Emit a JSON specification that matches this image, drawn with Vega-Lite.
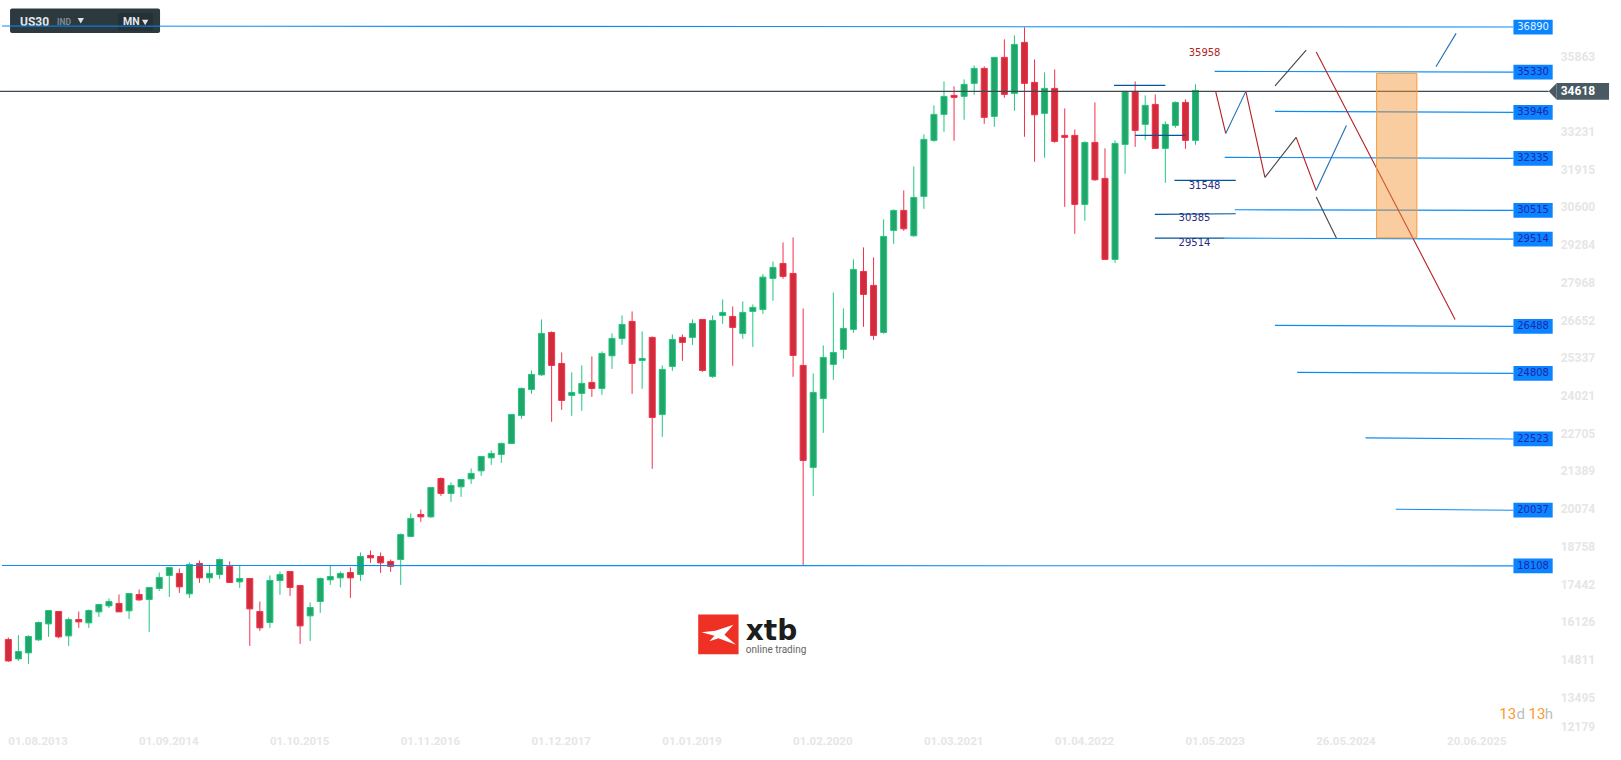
{
  "$schema": "https://vega.github.io/schema/vega-lite/v6.json",
  "width": 1626,
  "height": 765,
  "padding": {"left": 0, "top": 0, "right": 0, "bottom": 0},
  "autosize": {"type": "none"},
  "background": "#ffffff",
  "datasets": {
    "candles": [
      {"bar":0,"open":15527,"high":15597,"low":14745,"close":14780},
      {"bar":1,"open":14850,"high":15677,"low":14780,"close":15108},
      {"bar":2,"open":15059,"high":15677,"low":14676,"close":15631},
      {"bar":3,"open":15513,"high":16155,"low":15478,"close":16120},
      {"bar":4,"open":16071,"high":16539,"low":15618,"close":16539},
      {"bar":5,"open":16504,"high":16504,"low":15572,"close":15618},
      {"bar":6,"open":15652,"high":16294,"low":15303,"close":16225},
      {"bar":7,"open":16225,"high":16504,"low":15932,"close":16141},
      {"bar":8,"open":16106,"high":16573,"low":15932,"close":16539},
      {"bar":9,"open":16490,"high":16748,"low":16315,"close":16748},
      {"bar":10,"open":16699,"high":16957,"low":16629,"close":16853},
      {"bar":11,"open":16783,"high":17097,"low":16490,"close":16490},
      {"bar":12,"open":16525,"high":17132,"low":16246,"close":17132},
      {"bar":13,"open":17097,"high":17271,"low":16874,"close":16908},
      {"bar":14,"open":16922,"high":17341,"low":15792,"close":17341},
      {"bar":15,"open":17306,"high":17864,"low":17222,"close":17690},
      {"bar":16,"open":17760,"high":18039,"low":17013,"close":18039},
      {"bar":17,"open":17830,"high":18004,"low":17153,"close":17362},
      {"bar":18,"open":17118,"high":18213,"low":16978,"close":18144},
      {"bar":19,"open":18178,"high":18283,"low":17502,"close":17676},
      {"bar":20,"open":17676,"high":18095,"low":17502,"close":17830},
      {"bar":21,"open":17795,"high":18353,"low":17641,"close":18318},
      {"bar":22,"open":18074,"high":18248,"low":17516,"close":17516},
      {"bar":23,"open":17536,"high":18109,"low":17327,"close":17655},
      {"bar":24,"open":17655,"high":17655,"low":15303,"close":16594},
      {"bar":25,"open":16504,"high":16853,"low":15827,"close":15932},
      {"bar":26,"open":16120,"high":17760,"low":15932,"close":17585},
      {"bar":27,"open":17585,"high":17899,"low":17083,"close":17795},
      {"bar":28,"open":17899,"high":17899,"low":17048,"close":17341},
      {"bar":29,"open":17411,"high":17411,"low":15373,"close":16001},
      {"bar":30,"open":16350,"high":16818,"low":15478,"close":16643},
      {"bar":31,"open":16853,"high":17690,"low":16455,"close":17655},
      {"bar":32,"open":17606,"high":18109,"low":17432,"close":17725},
      {"bar":33,"open":17676,"high":17899,"low":17341,"close":17830},
      {"bar":34,"open":17864,"high":18039,"low":16978,"close":17676},
      {"bar":35,"open":17795,"high":18562,"low":17571,"close":18423},
      {"bar":36,"open":18458,"high":18632,"low":18199,"close":18374},
      {"bar":37,"open":18423,"high":18562,"low":17850,"close":18199},
      {"bar":38,"open":18248,"high":18318,"low":17885,"close":18074},
      {"bar":39,"open":18318,"high":19225,"low":17432,"close":19190},
      {"bar":40,"open":19121,"high":19923,"low":19121,"close":19749},
      {"bar":41,"open":19888,"high":20062,"low":19630,"close":19804},
      {"bar":42,"open":19804,"high":20830,"low":19769,"close":20830},
      {"bar":43,"open":21144,"high":21179,"low":20537,"close":20621},
      {"bar":44,"open":20621,"high":21005,"low":20328,"close":20900},
      {"bar":45,"open":20851,"high":21109,"low":20502,"close":21109},
      {"bar":46,"open":21130,"high":21493,"low":20956,"close":21319},
      {"bar":47,"open":21409,"high":21912,"low":21235,"close":21912},
      {"bar":48,"open":21863,"high":22121,"low":21618,"close":22016},
      {"bar":49,"open":21982,"high":22400,"low":21688,"close":22365},
      {"bar":50,"open":22365,"high":23377,"low":22365,"close":23377},
      {"bar":51,"open":23342,"high":24319,"low":23224,"close":24284},
      {"bar":52,"open":24249,"high":24912,"low":24096,"close":24773},
      {"bar":53,"open":24759,"high":26692,"low":24724,"close":26203},
      {"bar":54,"open":26238,"high":26273,"low":23119,"close":25087},
      {"bar":55,"open":25156,"high":25540,"low":23538,"close":23866},
      {"bar":56,"open":24040,"high":24843,"low":23328,"close":24145},
      {"bar":57,"open":24110,"high":25087,"low":23503,"close":24459},
      {"bar":58,"open":24494,"high":25401,"low":23991,"close":24284},
      {"bar":59,"open":24284,"high":25575,"low":24061,"close":25505},
      {"bar":60,"open":25422,"high":26203,"low":24968,"close":26029},
      {"bar":61,"open":26029,"high":26831,"low":25805,"close":26517},
      {"bar":62,"open":26622,"high":26971,"low":24096,"close":25157},
      {"bar":63,"open":25261,"high":26273,"low":24270,"close":25331},
      {"bar":64,"open":26064,"high":26098,"low":21479,"close":23272},
      {"bar":65,"open":23377,"high":25087,"low":22596,"close":24947},
      {"bar":66,"open":25052,"high":26168,"low":24898,"close":25993},
      {"bar":67,"open":26064,"high":26168,"low":25247,"close":25889},
      {"bar":68,"open":26064,"high":26692,"low":25805,"close":26552},
      {"bar":69,"open":26692,"high":26692,"low":24863,"close":24912},
      {"bar":70,"open":24703,"high":26831,"low":24654,"close":26657},
      {"bar":71,"open":26831,"high":27389,"low":26538,"close":26936},
      {"bar":72,"open":26796,"high":27145,"low":25073,"close":26413},
      {"bar":73,"open":26203,"high":27320,"low":26015,"close":26936},
      {"bar":74,"open":26971,"high":27215,"low":25736,"close":27110},
      {"bar":75,"open":27040,"high":28272,"low":26887,"close":28167},
      {"bar":76,"open":28122,"high":28715,"low":27340,"close":28506},
      {"bar":77,"open":28645,"high":29378,"low":28108,"close":28192},
      {"bar":78,"open":28296,"high":29553,"low":24689,"close":25435},
      {"bar":79,"open":25087,"high":27075,"low":18095,"close":21772},
      {"bar":80,"open":21528,"high":24808,"low":20537,"close":24145},
      {"bar":81,"open":23935,"high":25784,"low":22735,"close":25366},
      {"bar":82,"open":25122,"high":27634,"low":24584,"close":25540},
      {"bar":83,"open":25645,"high":27075,"low":25317,"close":26377},
      {"bar":84,"open":26343,"high":28785,"low":26224,"close":28436},
      {"bar":85,"open":28366,"high":29204,"low":26434,"close":27564},
      {"bar":86,"open":27878,"high":28855,"low":25980,"close":26133},
      {"bar":87,"open":26238,"high":30181,"low":26189,"close":29587},
      {"bar":88,"open":29797,"high":30529,"low":29329,"close":30495},
      {"bar":89,"open":30495,"high":31192,"low":29783,"close":29853},
      {"bar":90,"open":29609,"high":32030,"low":29574,"close":30948},
      {"bar":91,"open":30983,"high":33146,"low":30550,"close":32972},
      {"bar":92,"open":32937,"high":34158,"low":32888,"close":33844},
      {"bar":93,"open":33844,"high":34995,"low":33237,"close":34472},
      {"bar":94,"open":34507,"high":34821,"low":32923,"close":34437},
      {"bar":95,"open":34472,"high":35065,"low":33656,"close":34891},
      {"bar":96,"open":34926,"high":35554,"low":34528,"close":35449},
      {"bar":97,"open":35449,"high":35519,"low":33516,"close":33739},
      {"bar":98,"open":33774,"high":35833,"low":33411,"close":35833},
      {"bar":99,"open":35833,"high":36461,"low":34423,"close":34542},
      {"bar":100,"open":34577,"high":36600,"low":33970,"close":36286},
      {"bar":101,"open":36356,"high":36880,"low":33063,"close":34926},
      {"bar":102,"open":34961,"high":35763,"low":32190,"close":33830},
      {"bar":103,"open":33879,"high":35309,"low":32330,"close":34751},
      {"bar":104,"open":34751,"high":35414,"low":32853,"close":32902},
      {"bar":105,"open":33111,"high":34053,"low":30620,"close":33042},
      {"bar":106,"open":33111,"high":33321,"low":29678,"close":30704},
      {"bar":107,"open":30704,"high":32902,"low":30132,"close":32867},
      {"bar":108,"open":32867,"high":34263,"low":31527,"close":31562},
      {"bar":109,"open":31611,"high":32658,"low":28785,"close":28785},
      {"bar":110,"open":28785,"high":32937,"low":28666,"close":32832},
      {"bar":111,"open":32797,"high":34647,"low":31772,"close":34647},
      {"bar":112,"open":34647,"high":34995,"low":32714,"close":33286},
      {"bar":113,"open":33495,"high":34507,"low":32958,"close":34158},
      {"bar":114,"open":34193,"high":34542,"low":32658,"close":32658},
      {"bar":115,"open":32658,"high":33600,"low":31458,"close":33495},
      {"bar":116,"open":33460,"high":34298,"low":33376,"close":34263},
      {"bar":117,"open":34263,"high":34367,"low":32644,"close":32937},
      {"bar":118,"open":32937,"high":34891,"low":32783,"close":34681}
    ],
    "segments": [
      {"kind":"level","t1":-0.63,"p1":36925,"t2":149.6,"p2":36890},
      {"kind":"level","t1":119.9,"p1":35344,"t2":149.6,"p2":35320},
      {"kind":"level","t1":125.9,"p1":33949,"t2":149.6,"p2":33914},
      {"kind":"level","t1":120.9,"p1":32344,"t2":149.6,"p2":32309},
      {"kind":"level","t1":121.9,"p1":30515,"t2":149.6,"p2":30495},
      {"kind":"level","t1":120.9,"p1":29528,"t2":149.6,"p2":29493},
      {"kind":"level","t1":125.9,"p1":26485,"t2":149.6,"p2":26450},
      {"kind":"level","t1":128.1,"p1":24843,"t2":149.6,"p2":24808},
      {"kind":"level","t1":134.9,"p1":22558,"t2":149.6,"p2":22523},
      {"kind":"level","t1":137.9,"p1":20072,"t2":149.6,"p2":20037},
      {"kind":"level","t1":-0.63,"p1":18109,"t2":149.6,"p2":18095},
      {"kind":"support","t1":113.96,"p1":29528,"t2":120.9,"p2":29528},
      {"kind":"support","t1":113.96,"p1":30355,"t2":122,"p2":30376},
      {"kind":"support","t1":115.9,"p1":31541,"t2":122,"p2":31541},
      {"kind":"support","t1":109.9,"p1":34856,"t2":115,"p2":34856},
      {"kind":"support","t1":112,"p1":33111,"t2":117,"p2":33111},
      {"kind":"price","t1":-0.825,"p1":34647,"t2":153.1,"p2":34647},
      {"kind":"down","t1":120,"p1":34647,"t2":121,"p2":33181},
      {"kind":"down","t1":123,"p1":34647,"t2":124.9,"p2":31646},
      {"kind":"down","t1":128,"p1":33042,"t2":130,"p2":31178},
      {"kind":"down","t1":130,"p1":36018,"t2":143.8,"p2":26692},
      {"kind":"up","t1":121,"p1":33181,"t2":123,"p2":34647},
      {"kind":"up","t1":130,"p1":31203,"t2":133,"p2":33460},
      {"kind":"up","t1":141.9,"p1":35505,"t2":143.9,"p2":36670},
      {"kind":"alt","t1":124.9,"p1":31646,"t2":128,"p2":33042},
      {"kind":"alt","t1":130,"p1":30959,"t2":132,"p2":29528},
      {"kind":"alt","t1":125.9,"p1":34842,"t2":129,"p2":36087}
    ],
    "levels": [
      {"t1":149.6,"t2":153.5,"t":151.55,"price":36890,"text":"36890"},
      {"t1":149.6,"t2":153.5,"t":151.55,"price":35320,"text":"35330"},
      {"t1":149.6,"t2":153.5,"t":151.55,"price":33914,"text":"33946"},
      {"t1":149.6,"t2":153.5,"t":151.55,"price":32309,"text":"32335"},
      {"t1":149.6,"t2":153.5,"t":151.55,"price":30495,"text":"30515"},
      {"t1":149.6,"t2":153.5,"t":151.55,"price":29493,"text":"29514"},
      {"t1":149.6,"t2":153.5,"t":151.55,"price":26450,"text":"26488"},
      {"t1":149.6,"t2":153.5,"t":151.55,"price":24808,"text":"24808"},
      {"t1":149.6,"t2":153.5,"t":151.55,"price":22523,"text":"22523"},
      {"t1":149.6,"t2":153.5,"t":151.55,"price":20037,"text":"20037"},
      {"t1":149.6,"t2":153.5,"t":151.55,"price":18095,"text":"18108"}
    ]
  },
  "layer": [
    {
      "data": {"name": "candles"},
      "mark": {"type": "rule", "strokeWidth": 1},
      "encoding": {
        "x": {"field": "bar", "type": "quantitative", "scale": {"domain": [-0.331, 160.29], "nice": false, "zero": false}},
        "y": {"field": "high", "type": "quantitative", "scale": {"domain": [11322.9, 37659.9], "nice": false, "zero": false}},
        "y2": {"field": "low"},
        "color": {"condition": {"test": "datum.close >= datum.open", "value": "#1fc77f"}, "value": "#f5304a"}
      }
    },
    {
      "data": {"name": "candles"},
      "mark": {"type": "bar", "size": 6, "strokeWidth": 1},
      "encoding": {
        "x": {"field": "bar", "type": "quantitative"},
        "y": {"field": "open", "type": "quantitative"},
        "y2": {"field": "close"},
        "fill": {"condition": {"test": "datum.close >= datum.open", "value": "#22a56a"}, "value": "#d02d3c"},
        "stroke": {"condition": {"test": "datum.close >= datum.open", "value": "#1fc77f"}, "value": "#f5304a"}
      }
    },
    {
      "data": {"values": [{"t1": 0.17, "t2": 15.08, "p1": 37542, "p2": 36681}]},
      "mark": {"type": "rect", "fill": "#2c3a40", "cornerRadius": 2},
      "encoding": {
        "x": {"field": "t1", "type": "quantitative"},
        "x2": {"field": "t2"},
        "y": {"field": "p1", "type": "quantitative"},
        "y2": {"field": "p2"}
      }
    },
    {
      "data": {"values": [{"t1": 10.9, "t2": 14.38, "p1": 37378, "p2": 36750}]},
      "mark": {"type": "rect", "fill": "#263136", "cornerRadius": 2},
      "encoding": {
        "x": {"field": "t1", "type": "quantitative"},
        "x2": {"field": "t2"},
        "y": {"field": "p1", "type": "quantitative"},
        "y2": {"field": "p2"}
      }
    },
    {
      "data": {"values": [{"t": 1.16, "p": 37064, "text": "US30"}]},
      "mark": {"type": "text", "align": "left", "baseline": "middle", "font": "Roboto", "fontWeight": "bold", "fontSize": 12, "fill": "#e4e8ea"},
      "encoding": {
        "x": {"field": "t", "type": "quantitative"},
        "y": {"field": "p", "type": "quantitative"},
        "text": {"field": "text"}
      }
    },
    {
      "data": {"values": [{"t": 11.4, "p": 37064, "text": "MN"}]},
      "mark": {"type": "text", "align": "left", "baseline": "middle", "font": "Roboto", "fontWeight": "bold", "fontSize": 10.5, "fill": "#e4e8ea"},
      "encoding": {
        "x": {"field": "t", "type": "quantitative"},
        "y": {"field": "p", "type": "quantitative"},
        "text": {"field": "text"}
      }
    },
    {
      "data": {"values": [{"t": 4.84, "p": 37064, "text": "IND"}]},
      "mark": {"type": "text", "align": "left", "baseline": "middle", "font": "Roboto", "fontWeight": "bold", "fontSize": 8.5, "fill": "#7d8a91"},
      "encoding": {
        "x": {"field": "t", "type": "quantitative"},
        "y": {"field": "p", "type": "quantitative"},
        "text": {"field": "text"}
      }
    },
    {
      "data": {"values": [{"t": 7.2, "p": 37110}, {"t": 13.6, "p": 37050}]},
      "mark": {"type": "point", "shape": "triangle-down", "size": 40, "filled": true, "fill": "#dfe3e5", "opacity": 1},
      "encoding": {
        "x": {"field": "t", "type": "quantitative"},
        "y": {"field": "p", "type": "quantitative"}
      }
    },
    {
      "data": {"name": "segments"},
      "mark": {"type": "rule", "strokeWidth": 1.1},
      "encoding": {
        "x": {"field": "t1", "type": "quantitative"},
        "y": {"field": "p1", "type": "quantitative"},
        "x2": {"field": "t2"},
        "y2": {"field": "p2"},
        "color": {
          "field": "kind",
          "type": "nominal",
          "legend": null,
          "scale": {
            "domain": ["level", "support", "price", "down", "up", "alt"],
            "range": ["#0a8cf5", "#00569b", "#3f4a50", "#b32024", "#1f6fb5", "#444444"]
          }
        }
      }
    },
    {
      "data": {"values": [{"t1": 136, "t2": 140, "p1": 35275, "p2": 29539}]},
      "mark": {"type": "rect", "fill": "#f59331", "fillOpacity": 0.46, "stroke": "#f59c3c", "strokeWidth": 1},
      "encoding": {
        "x": {"field": "t1", "type": "quantitative"},
        "x2": {"field": "t2"},
        "y": {"field": "p1", "type": "quantitative"},
        "y2": {"field": "p2"}
      }
    },
    {
      "data": {"name": "levels"},
      "mark": {"type": "bar", "size": 14.7, "fill": "#0a84ff"},
      "encoding": {
        "x": {"field": "t1", "type": "quantitative"},
        "x2": {"field": "t2"},
        "y": {"field": "price", "type": "quantitative"}
      }
    },
    {
      "data": {"name": "levels"},
      "mark": {"type": "text", "align": "center", "baseline": "middle", "font": "DejaVu Sans", "fontSize": 10},
      "encoding": {
        "x": {"field": "t", "type": "quantitative"},
        "y": {"field": "price", "type": "quantitative"},
        "text": {"field": "text"},
        "color": {"condition": {"test": "datum.text == '36890'", "value": "#e8f4ff"}, "value": "#2323a8"}
      }
    },
    {
      "data": {"values": [{"t": 118.9, "p": 35972, "text": "35958"}]},
      "mark": {"type": "text", "align": "center", "baseline": "middle", "font": "DejaVu Sans", "fontSize": 10, "fill": "#b22222"},
      "encoding": {
        "x": {"field": "t", "type": "quantitative"},
        "y": {"field": "p", "type": "quantitative"},
        "text": {"field": "text"}
      }
    },
    {
      "data": {"values": [
        {"t": 118.9, "p": 31332, "text": "31548"},
        {"t": 117.9, "p": 30215, "text": "30385"},
        {"t": 117.9, "p": 29343, "text": "29514"}
      ]},
      "mark": {"type": "text", "align": "center", "baseline": "middle", "font": "DejaVu Sans", "fontSize": 10, "fill": "#2b2b80"},
      "encoding": {
        "x": {"field": "t", "type": "quantitative"},
        "y": {"field": "p", "type": "quantitative"},
        "text": {"field": "text"}
      }
    },
    {
      "data": {"values": [
        {"t": 154.3, "p": 35863, "text": "35863"}, {"t": 154.3, "p": 33231, "text": "33231"}, {"t": 154.3, "p": 31915, "text": "31915"},
        {"t": 154.3, "p": 30600, "text": "30600"}, {"t": 154.3, "p": 29284, "text": "29284"}, {"t": 154.3, "p": 27968, "text": "27968"},
        {"t": 154.3, "p": 26652, "text": "26652"}, {"t": 154.3, "p": 25337, "text": "25337"}, {"t": 154.3, "p": 24021, "text": "24021"},
        {"t": 154.3, "p": 22705, "text": "22705"}, {"t": 154.3, "p": 21389, "text": "21389"}, {"t": 154.3, "p": 20074, "text": "20074"},
        {"t": 154.3, "p": 18758, "text": "18758"}, {"t": 154.3, "p": 17442, "text": "17442"}, {"t": 154.3, "p": 16126, "text": "16126"},
        {"t": 154.3, "p": 14811, "text": "14811"}, {"t": 154.3, "p": 13495, "text": "13495"}, {"t": 154.3, "p": 12460, "text": "12179"}
      ]},
      "mark": {"type": "text", "align": "left", "baseline": "middle", "font": "Roboto", "fontWeight": "bold", "fontSize": 12, "fill": "#e6e6e6"},
      "encoding": {
        "x": {"field": "t", "type": "quantitative"},
        "y": {"field": "p", "type": "quantitative"},
        "text": {"field": "text"}
      }
    },
    {
      "data": {"values": [
        {"bar": 0, "p": 11944, "text": "01.08.2013"}, {"bar": 13, "p": 11944, "text": "01.09.2014"}, {"bar": 26, "p": 11944, "text": "01.10.2015"},
        {"bar": 39, "p": 11944, "text": "01.11.2016"}, {"bar": 52, "p": 11944, "text": "01.12.2017"}, {"bar": 65, "p": 11944, "text": "01.01.2019"},
        {"bar": 78, "p": 11944, "text": "01.02.2020"}, {"bar": 91, "p": 11944, "text": "01.03.2021"}, {"bar": 104, "p": 11944, "text": "01.04.2022"},
        {"bar": 117, "p": 11944, "text": "01.05.2023"}, {"bar": 130, "p": 11944, "text": "26.05.2024"}, {"bar": 143, "p": 11944, "text": "20.06.2025"}
      ]},
      "mark": {"type": "text", "align": "left", "baseline": "middle", "font": "Roboto", "fontWeight": "bold", "fontSize": 11.5, "fill": "#e6e6e6"},
      "encoding": {
        "x": {"field": "bar", "type": "quantitative"},
        "y": {"field": "p", "type": "quantitative"},
        "text": {"field": "text"}
      }
    },
    {
      "data": {"values": [{"t1": 153.9, "t2": 159.1, "p1": 34936, "p2": 34353}]},
      "mark": {"type": "rect", "fill": "#4a5a63"},
      "encoding": {
        "x": {"field": "t1", "type": "quantitative"},
        "x2": {"field": "t2"},
        "y": {"field": "p1", "type": "quantitative"},
        "y2": {"field": "p2"}
      }
    },
    {
      "data": {"values": [{"t": 153.5, "p": 34647}]},
      "mark": {"type": "point", "shape": "M0.48,-1L0.48,1L-0.48,0Z", "size": 279, "filled": true, "fill": "#4a5a63", "opacity": 1},
      "encoding": {
        "x": {"field": "t", "type": "quantitative"},
        "y": {"field": "p", "type": "quantitative"}
      }
    },
    {
      "data": {"values": [{"t": 154.3, "p": 34647, "text": "34618"}]},
      "mark": {"type": "text", "align": "left", "baseline": "middle", "font": "Roboto", "fontWeight": "bold", "fontSize": 12, "fill": "#ffffff"},
      "encoding": {
        "x": {"field": "t", "type": "quantitative"},
        "y": {"field": "p", "type": "quantitative"},
        "text": {"field": "text"}
      }
    },
    {
      "data": {"values": [{"t1": 68.57, "t2": 72.58, "p1": 16399, "p2": 15014}]},
      "mark": {"type": "rect", "fill": "#ee3124"},
      "encoding": {
        "x": {"field": "t1", "type": "quantitative"},
        "x2": {"field": "t2"},
        "y": {"field": "p1", "type": "quantitative"},
        "y2": {"field": "p2"}
      }
    },
    {
      "data": {"values": [{"t": 70.58, "p": 15694}]},
      "mark": {"type": "point", "shape": "M.75,-.5L.3,0L.875,.5L0,.18L-.45,.33L-.2,.05L-.85,-.12L-.15,-.2Z", "size": 1600, "filled": true, "fill": "#ffffff", "opacity": 1},
      "encoding": {
        "x": {"field": "t", "type": "quantitative"},
        "y": {"field": "p", "type": "quantitative"}
      }
    },
    {
      "data": {"values": [{"t": 73.3, "p": 15502, "text": "xtb"}]},
      "mark": {"type": "text", "align": "left", "baseline": "alphabetic", "font": "DejaVu Sans", "fontWeight": "bold", "fontSize": 28, "fill": "#1d1d1b"},
      "encoding": {
        "x": {"field": "t", "type": "quantitative"},
        "y": {"field": "p", "type": "quantitative"},
        "text": {"field": "text"}
      }
    },
    {
      "data": {"values": [{"t": 73.3, "p": 15154, "text": "online trading"}]},
      "mark": {"type": "text", "align": "left", "baseline": "middle", "font": "Roboto", "fontSize": 10, "fill": "#666666"},
      "encoding": {
        "x": {"field": "t", "type": "quantitative"},
        "y": {"field": "p", "type": "quantitative"},
        "text": {"field": "text"}
      }
    },
    {
      "data": {"values": [{"t": 148.2, "p": 12921, "text": "13"}, {"t": 151.1, "p": 12921, "text": "13"}]},
      "mark": {"type": "text", "align": "left", "baseline": "middle", "font": "Roboto", "fontSize": 15, "fill": "#ff9a1f"},
      "encoding": {
        "x": {"field": "t", "type": "quantitative"},
        "y": {"field": "p", "type": "quantitative"},
        "text": {"field": "text"}
      }
    },
    {
      "data": {"values": [{"t": 149.9, "p": 12921, "text": "d"}, {"t": 152.7, "p": 12921, "text": "h"}]},
      "mark": {"type": "text", "align": "left", "baseline": "middle", "font": "Roboto", "fontSize": 15, "fill": "#b9bfc4"},
      "encoding": {
        "x": {"field": "t", "type": "quantitative"},
        "y": {"field": "p", "type": "quantitative"},
        "text": {"field": "text"}
      }
    }
  ],
  "config": {
    "view": {"stroke": null},
    "axis": {"disable": true}
  }
}
